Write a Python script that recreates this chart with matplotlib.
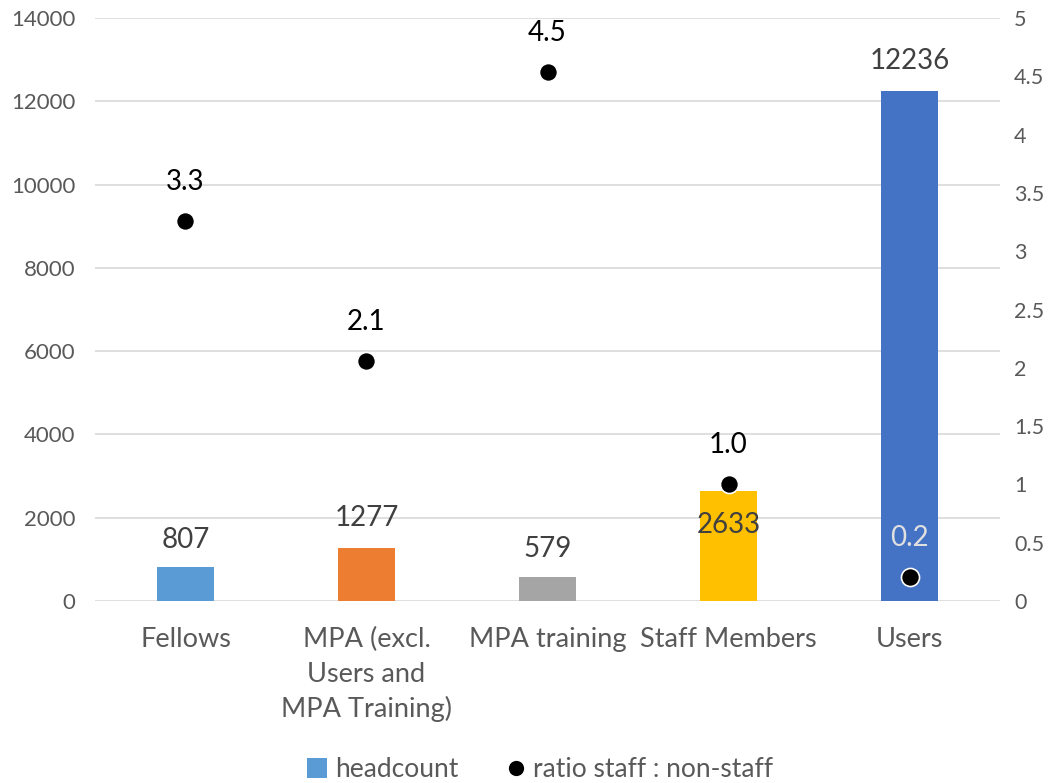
import matplotlib.pyplot as plt
from matplotlib.lines import Line2D
from matplotlib.patches import Patch

plt.rcParams['font.family'] = ['Lato', 'DejaVu Sans']

categories = ["Fellows", "MPA (excl.\nUsers and\nMPA Training)", "MPA training", "Staff Members", "Users"]
headcount = [807, 1277, 579, 2633, 12236]
ratio = [3.26, 2.06, 4.54, 1.0, 0.21]
ratio_labels = ["3.3", "2.1", "4.5", "1.0", "0.2"]
bar_colors = ["#5B9BD5", "#ED7D31", "#A5A5A5", "#FFC000", "#4472C4"]
left_ticks = [0, 2000, 4000, 6000, 8000, 10000, 12000, 14000]
right_ticks = [0, 0.5, 1, 1.5, 2, 2.5, 3, 3.5, 4, 4.5, 5]
right_tick_labels = ["0", "0.5", "1", "1.5", "2", "2.5", "3", "3.5", "4", "4.5", "5"]

fig = plt.figure(figsize=(10.53, 7.83), dpi=100)
ax = fig.add_axes([0.0902, 0.2324, 0.8595, 0.7446])
ax2 = ax.twinx()

x = list(range(len(categories)))
ax.bar(x, headcount, width=0.315, color=bar_colors, zorder=2)
ax.set_xlim(-0.5, len(categories) - 0.5)
ax.set_ylim(0, 14000)
ax.set_yticks(left_ticks)
ax.set_yticklabels([str(t) for t in left_ticks])
ax.grid(axis='y', color='#D9D9D9', linewidth=1.2, zorder=0)
ax.set_axisbelow(True)
for s in ax.spines.values():
    s.set_visible(False)
for s in ax2.spines.values():
    s.set_visible(False)
ax.tick_params(axis='y', length=0, pad=14, labelsize=16, labelcolor='#595959')
ax.tick_params(axis='x', length=0, pad=19, labelsize=19.5, labelcolor='#595959')
ax.set_xticks(x)
ax.set_xticklabels(categories, va='top', linespacing=1.45)

ax2.set_ylim(0, 5)
ax2.set_yticks(right_ticks)
ax2.set_yticklabels(right_tick_labels)
ax2.tick_params(axis='y', length=0, pad=10, labelsize=15.5, labelcolor='#595959')

ax2.plot(x, ratio, linestyle='none', marker='o', markersize=13,
         markerfacecolor='black', markeredgecolor='white', markeredgewidth=1.2, zorder=5)

offsets = [27, 30, 28, 30, 30]
for i, v in enumerate(headcount):
    if i == 3:
        ax.annotate(str(v), (i, v), xytext=(0, -34), textcoords='offset pixels',
                    ha='center', va='center', fontsize=20, color='#404040')
    else:
        ax.annotate(str(v), (i, v), xytext=(0, offsets[i]), textcoords='offset pixels',
                    ha='center', va='center', fontsize=20, color='#404040')

for i, (v, lab) in enumerate(zip(ratio, ratio_labels)):
    col = '#E0E0E0' if i == 4 else 'black'
    ax2.annotate(lab, (i, v), xytext=(0, 39), textcoords='offset pixels',
                 ha='center', va='center', fontsize=20, color=col)

handles = [Patch(facecolor="#5B9BD5", edgecolor='none'),
           Line2D([], [], linestyle='none', marker='o', markersize=12,
                  markerfacecolor='black', markeredgecolor='white')]
fig.legend(handles, ["headcount", "ratio staff : non-staff"], loc='center',
           bbox_to_anchor=(0.513, 0.017), ncol=2, frameon=False, fontsize=19,
           labelcolor='#595959', handlelength=0.75, handleheight=0.75,
           handletextpad=0.3, columnspacing=1.8)

fig.savefig("out.png", dpi=100)
